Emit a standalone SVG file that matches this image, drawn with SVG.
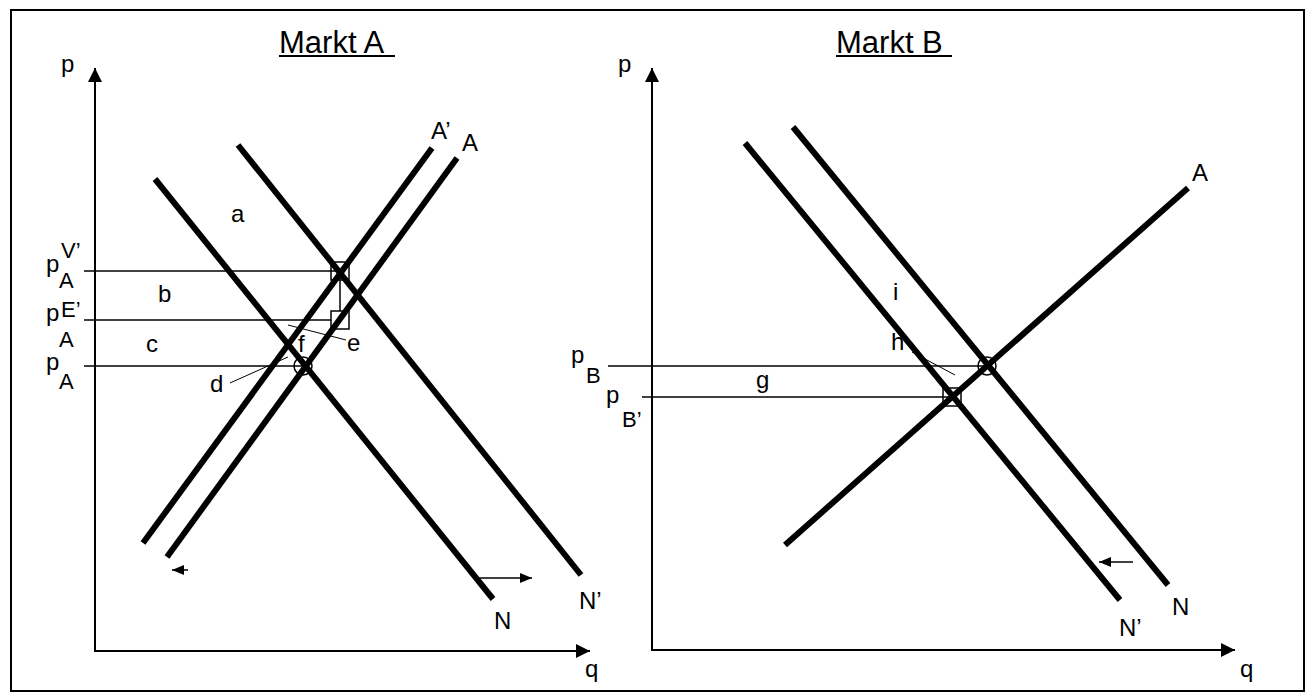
<svg xmlns="http://www.w3.org/2000/svg" width="1311" height="695" viewBox="0 0 1311 695">
<defs>
<style>
text{font-family:"Liberation Sans",Arial,sans-serif;fill:#000}
.lbl{font-size:24px}
.sub{font-size:22px}
.title{font-size:31px}
.thick{stroke:#000;stroke-width:6;fill:none}
.axis{stroke:#000;stroke-width:2;fill:none}
.thin{stroke:#000;stroke-width:1.5;fill:none}
.lead{stroke:#000;stroke-width:1;fill:none}
.mark{stroke:#000;stroke-width:1.5;fill:none}
</style>
<marker id="ah" viewBox="0 0 14 14" refX="14" refY="7" markerWidth="14" markerHeight="14" markerUnits="userSpaceOnUse" orient="auto">
<path d="M0,0 L14,7 L0,14 Z" fill="#000"/>
</marker>
<marker id="sh" viewBox="0 0 12 10" refX="12" refY="5" markerWidth="12" markerHeight="10" markerUnits="userSpaceOnUse" orient="auto">
<path d="M0,0 L12,5 L0,10 Z" fill="#000"/>
</marker>
</defs>
<rect x="11" y="10" width="1293" height="681" fill="#fff" stroke="#000" stroke-width="2"/>

<g id="titles">
<text class="title" x="279" y="53">Markt A</text>
<line x1="279" y1="56" x2="395" y2="56" stroke="#000" stroke-width="2"/>
<text class="title" x="836" y="53">Markt B</text>
<line x1="836" y1="56" x2="952" y2="56" stroke="#000" stroke-width="2"/>
</g>

<g id="axes-A">
<line class="axis" x1="95" y1="651" x2="95" y2="68" marker-end="url(#ah)"/>
<line class="axis" x1="94" y1="651" x2="590" y2="651" marker-end="url(#ah)"/>
<text class="lbl" x="61" y="72">p</text>
<text class="lbl" x="585" y="677">q</text>
</g>

<g id="axes-B">
<line class="axis" x1="652" y1="651" x2="652" y2="68" marker-end="url(#ah)"/>
<line class="axis" x1="651" y1="650" x2="1235" y2="650" marker-end="url(#ah)"/>
<text class="lbl" x="618" y="72">p</text>
<text class="lbl" x="1240" y="677">q</text>
</g>

<g id="connectors">
<line class="thin" x1="84" y1="271" x2="340" y2="271"/>
<line class="thin" x1="84" y1="320" x2="331" y2="320"/>
<line class="thin" x1="84" y1="366" x2="303" y2="366"/>
<line class="thin" x1="340" y1="271" x2="340" y2="311"/>
<line class="lead" x1="230" y1="383" x2="288" y2="357"/>
<line class="lead" x1="288" y1="325" x2="346" y2="340"/>
<line class="thin" x1="608" y1="366" x2="987" y2="366"/>
<line class="thin" x1="642" y1="397" x2="952" y2="397"/>
<line class="lead" x1="912" y1="352" x2="955" y2="375"/>
<line class="thin" x1="188" y1="570" x2="172" y2="570" marker-end="url(#sh)"/>
<line class="thin" x1="478" y1="578" x2="532" y2="578" marker-end="url(#sh)"/>
<line class="thin" x1="1133" y1="562" x2="1099" y2="562" marker-end="url(#sh)"/>
</g>

<g id="curve-N-A">
<line class="thick" x1="155" y1="179" x2="493" y2="599"/>
<text class="lbl" x="494" y="629">N</text>
</g>
<g id="curve-N2-A">
<line class="thick" x1="238" y1="145" x2="581" y2="575"/>
<text class="lbl" x="579" y="609">N’</text>
</g>
<g id="curve-A2-A">
<line class="thick" x1="143" y1="543" x2="432" y2="148"/>
<text class="lbl" x="431" y="139">A’</text>
</g>
<g id="curve-A-A">
<line class="thick" x1="167" y1="557" x2="457" y2="158"/>
<text class="lbl" x="462" y="151">A</text>
</g>

<g id="curve-N-B">
<line class="thick" x1="793" y1="127" x2="1168" y2="585"/>
<text class="lbl" x="1172" y="615">N</text>
</g>
<g id="curve-N2-B">
<line class="thick" x1="745" y1="143" x2="1120" y2="600"/>
<text class="lbl" x="1119" y="636">N’</text>
</g>
<g id="curve-A-B">
<line class="thick" x1="785" y1="545" x2="1188" y2="188"/>
<text class="lbl" x="1192" y="181">A</text>
</g>

<g id="markers-A">
<rect class="mark" x="331" y="262" width="18" height="18"/>
<rect class="mark" x="331" y="311" width="18" height="18"/>
<circle class="mark" cx="303" cy="366" r="9"/>
</g>
<g id="markers-B">
<circle class="mark" cx="987" cy="366" r="9"/>
<rect class="mark" x="943" y="388" width="18" height="18"/>
</g>

<g id="price-labels-A">
<text class="lbl" x="46" y="272">p</text><text class="sub" x="59" y="288">A</text><text class="sub" x="61" y="258">V’</text>
<text class="lbl" x="46" y="321">p</text><text class="sub" x="59" y="347">A</text><text class="sub" x="61" y="317">E’</text>
<text class="lbl" x="46" y="370">p</text><text class="sub" x="59" y="389">A</text>
</g>
<g id="price-labels-B">
<text class="lbl" x="571" y="363">p</text><text class="sub" x="586" y="383">B</text>
<text class="lbl" x="606" y="403">p</text><text class="sub" x="622" y="427">B’</text>
</g>

<g id="area-labels">
<text class="lbl" x="231" y="222">a</text>
<text class="lbl" x="158" y="302">b</text>
<text class="lbl" x="146" y="352">c</text>
<text class="lbl" x="210" y="392">d</text>
<text class="lbl" x="347" y="351">e</text>
<text class="lbl" x="298" y="352">f</text>
<text class="lbl" x="756" y="388">g</text>
<text class="lbl" x="891" y="350">h</text>
<text class="lbl" x="893" y="300">i</text>
</g>
</svg>
